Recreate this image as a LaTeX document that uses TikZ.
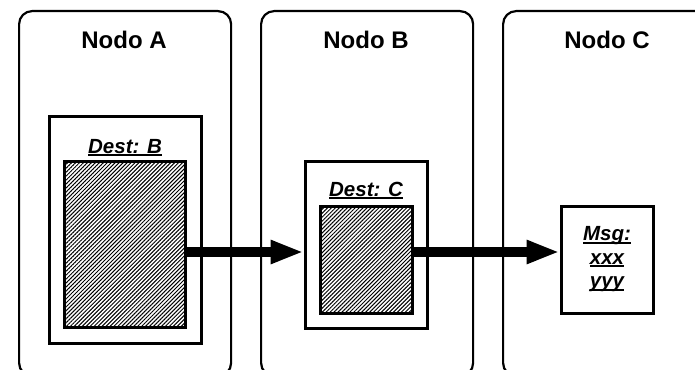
\documentclass[tikz,border=0pt]{standalone}
\usepackage{fontspec}
\setmainfont{Liberation Sans}
\usetikzlibrary{arrows.meta,patterns.meta}

% underline sitting close to the baseline (crosses descenders)
\newcommand{\uln}[1]{\setbox0\hbox{#1}\rlap{\vrule height -1pt depth 3pt width \wd0}\box0}

\begin{document}
\begin{tikzpicture}[x=1pt, y=-1pt,
    host/.style={draw, line width=2.2pt, rounded corners=13pt, inner sep=0pt,
      minimum width=212pt, minimum height=365pt, anchor=north west},
    hosttitle/.style={font=\fontsize{24}{28}\selectfont\bfseries},
    frame/.style={draw, line width=3pt, inner sep=0pt},
    payload/.style={frame, pattern={Lines[angle=45, distance=2.8pt, line width=1pt]}},
    hdr/.style={font=\fontsize{20.5}{23.5}\selectfont\bfseries\itshape, anchor=base},
    flow/.style={line width=10pt, -{Triangle[length=33pt, width=22pt]}}]
  \useasboundingbox (0,0) rectangle (695,369);
  \clip (0,0) rectangle (695,369);

  % --- Hosts (run past the bottom and right border) ---
  \node[host] (hostA) at (18,10) {};
  \node[host] (hostB) at (260,10) {};
  \node[host] (hostC) at (502,10) {};
  \node[hosttitle] (titleA) at (124,40) {Nodo A};
  \node[hosttitle] (titleB) at (366,40) {Nodo B};
  \node[hosttitle] (titleC) at (607,40) {Nodo C};

  % --- Packet held by A: header + payload ---
  \node[frame, minimum width=152pt, minimum height=227pt] (frameA) at (125,229.5) {};
  \node[hdr] (destA) at (125,153) {\uln{Dest: B}};
  \node[payload, minimum width=121pt, minimum height=166pt] (hatchA) at (124.5,244) {};

  % --- Packet held by B ---
  \node[frame, minimum width=122pt, minimum height=167pt] (frameB) at (366,244.5) {};
  \node[hdr] (destB) at (366,196) {\uln{Dest: C}};
  \node[payload, minimum width=92pt, minimum height=107pt] (hatchB) at (366,259.5) {};

  % --- Message delivered at C ---
  \node[frame, minimum width=92pt, minimum height=107pt, align=center,
    font=\fontsize{20.5}{23.5}\selectfont\bfseries\itshape] (msg) at (607,259.5)
    {\uln{Msg:}\\\uln{xxx}\\\uln{yyy}};

  % --- Forwarding ---
  \coordinate (lane) at (0,252);
  \draw[flow] (hatchA.east |- lane) -- (frameB.west |- lane);
  \draw[flow] (hatchB.east |- lane) -- (msg.west |- lane);
\end{tikzpicture}
\end{document}
